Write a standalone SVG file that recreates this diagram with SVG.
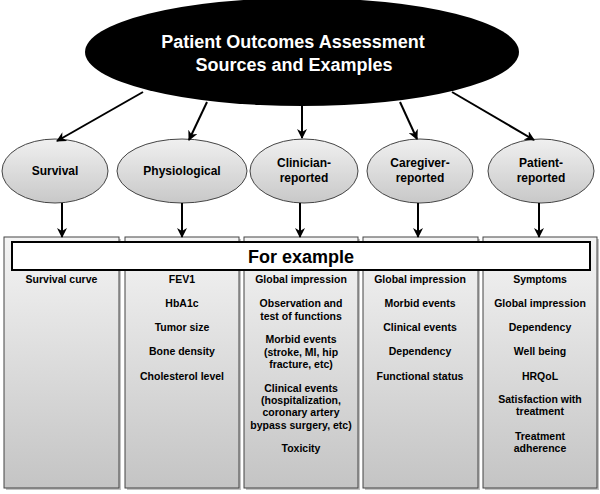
<svg xmlns="http://www.w3.org/2000/svg" width="600" height="494" viewBox="0 0 600 494">
<defs>
<linearGradient id="boxg" x1="0" y1="0" x2="0" y2="1">
<stop offset="0" stop-color="#f4f4f4"/>
<stop offset="1" stop-color="#c4c4c4"/>
</linearGradient>
<linearGradient id="ellg" x1="0" y1="0" x2="0" y2="1">
<stop offset="0" stop-color="#f0f0f0"/>
<stop offset="1" stop-color="#c8c8c8"/>
</linearGradient>
<marker id="ah" viewBox="0 0 10 10" refX="9" refY="5" markerWidth="5" markerHeight="5" orient="auto" markerUnits="strokeWidth">
<path d="M0,0 L10,5 L0,10 L3,5 z" fill="#000"/>
</marker>
</defs>
<style>
text{font-family:"Liberation Sans",Arial,sans-serif;font-weight:bold;text-anchor:middle;fill:#000}
.box{fill:url(#boxg);stroke:#444;stroke-width:1}
.shadow{fill:#9a9a9a;opacity:0.6}
.sub{fill:url(#ellg);stroke:#444;stroke-width:1}
.sub-t{font-size:12px}
.item{font-size:10.5px}
.conn{stroke:#000;stroke-width:2;fill:none;marker-end:url(#ah)}
</style>
<rect width="600" height="494" fill="#fff"/>

<!-- columns -->
<g id="col-survival">
<rect class="shadow" x="6" y="239" width="115" height="251"/>
<rect class="box" x="4" y="237" width="115" height="251"/>
<text class="item" x="61.5" y="283">Survival curve</text>
</g>
<g id="col-physiological">
<rect class="shadow" x="127" y="239" width="114" height="251"/>
<rect class="box" x="125" y="237" width="114" height="251"/>
<text class="item" x="182" y="283">FEV1</text>
<text class="item" x="182" y="307">HbA1c</text>
<text class="item" x="182" y="331">Tumor size</text>
<text class="item" x="182" y="355">Bone density</text>
<text class="item" x="182" y="380">Cholesterol level</text>
</g>
<g id="col-clinician">
<rect class="shadow" x="246" y="239" width="114" height="251"/>
<rect class="box" x="244" y="237" width="114" height="251"/>
<text class="item" x="301" y="283">Global impression</text>
<text class="item" x="301" y="307">Observation and</text>
<text class="item" x="301" y="320">test of functions</text>
<text class="item" x="301" y="343">Morbid events</text>
<text class="item" x="301" y="356">(stroke, MI, hip</text>
<text class="item" x="301" y="368">fracture, etc)</text>
<text class="item" x="301" y="392">Clinical events</text>
<text class="item" x="301" y="404">(hospitalization,</text>
<text class="item" x="301" y="416">coronary artery</text>
<text class="item" x="301" y="429">bypass surgery, etc)</text>
<text class="item" x="301" y="452">Toxicity</text>
</g>
<g id="col-caregiver">
<rect class="shadow" x="365" y="239" width="115" height="251"/>
<rect class="box" x="363" y="237" width="115" height="251"/>
<text class="item" x="420" y="283">Global impression</text>
<text class="item" x="420" y="307">Morbid events</text>
<text class="item" x="420" y="331">Clinical events</text>
<text class="item" x="420" y="355">Dependency</text>
<text class="item" x="420" y="380">Functional status</text>
</g>
<g id="col-patient">
<rect class="shadow" x="485" y="239" width="114" height="251"/>
<rect class="box" x="483" y="237" width="114" height="251"/>
<text class="item" x="540" y="283">Symptoms</text>
<text class="item" x="540" y="307">Global impression</text>
<text class="item" x="540" y="331">Dependency</text>
<text class="item" x="540" y="355">Well being</text>
<text class="item" x="540" y="380">HRQoL</text>
<text class="item" x="540" y="403">Satisfaction with</text>
<text class="item" x="540" y="415">treatment</text>
<text class="item" x="540" y="440">Treatment</text>
<text class="item" x="540" y="452">adherence</text>
</g>

<g id="for-example">
<rect x="12" y="242" width="578" height="28" fill="#fff" stroke="#000" stroke-width="2"/>
<text x="301" y="263" style="font-size:18px">For example</text>
</g>

<!-- top node -->
<g id="root">
<ellipse cx="302" cy="52" rx="217" ry="54" fill="#000"/>
<text x="293" y="48" style="font-size:18px;fill:#fff">Patient Outcomes Assessment</text>
<text x="294" y="71" style="font-size:18px;fill:#fff">Sources and Examples</text>
</g>

<!-- sub nodes -->
<g id="survival">
<ellipse class="sub" cx="55" cy="171" rx="53" ry="32"/>
<text class="sub-t" x="55" y="175">Survival</text>
</g>
<g id="physiological">
<ellipse class="sub" cx="182" cy="171" rx="65" ry="32"/>
<text class="sub-t" x="182" y="175">Physiological</text>
</g>
<g id="clinician">
<ellipse class="sub" cx="304" cy="171" rx="54" ry="32"/>
<text class="sub-t" x="304" y="167">Clinician-</text>
<text class="sub-t" x="304" y="182">reported</text>
</g>
<g id="caregiver">
<ellipse class="sub" cx="420" cy="171" rx="53" ry="32"/>
<text class="sub-t" x="420" y="167">Caregiver-</text>
<text class="sub-t" x="420" y="182">reported</text>
</g>
<g id="patient">
<ellipse class="sub" cx="541" cy="171" rx="53" ry="32"/>
<text class="sub-t" x="541" y="167">Patient-</text>
<text class="sub-t" x="541" y="182">reported</text>
</g>

<g id="connectors">
<line class="conn" x1="143" y1="92" x2="57" y2="141"/>
<line class="conn" x1="207" y1="102" x2="189" y2="140"/>
<line class="conn" x1="302" y1="105" x2="302" y2="138"/>
<line class="conn" x1="400" y1="102" x2="417" y2="139"/>
<line class="conn" x1="452" y1="92" x2="534" y2="140"/>
<line class="conn" x1="62" y1="203" x2="62" y2="237"/>
<line class="conn" x1="182" y1="203" x2="182" y2="237"/>
<line class="conn" x1="300" y1="203" x2="300" y2="237"/>
<line class="conn" x1="418" y1="203" x2="418" y2="237"/>
<line class="conn" x1="539" y1="203" x2="539" y2="237"/>
</g>
</svg>
